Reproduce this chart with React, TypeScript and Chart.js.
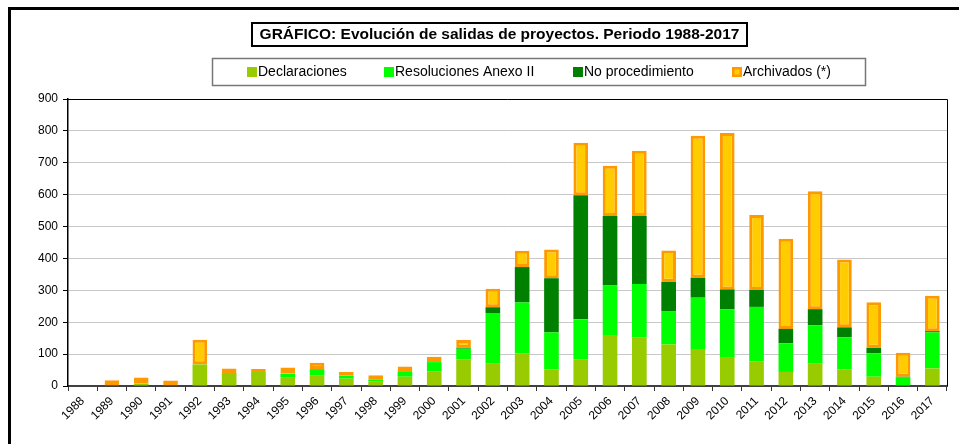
import React, { useEffect, useRef } from 'react';
import { Chart, registerables } from 'chart.js';
Chart.register(...registerables);

const years = ['1988','1989','1990','1991','1992','1993','1994','1995','1996','1997','1998','1999','2000','2001','2002','2003','2004','2005','2006','2007','2008','2009','2010','2011','2012','2013','2014','2015','2016','2017'];
const declaraciones = [0, 0, 8, 2, 68, 41, 44, 26, 34, 23, 14, 29, 46, 83, 70, 102, 52, 83, 160, 153, 130, 116, 91, 77, 44, 70, 52, 29, 0, 55];
const resoluciones = [0, 0, 0, 0, 0, 0, 0, 13, 19, 10, 7, 15, 29, 34, 159, 160, 116, 126, 155, 167, 105, 161, 150, 171, 90, 120, 101, 74, 28, 113];
const noProcedimiento = [0, 0, 0, 0, 0, 0, 0, 0, 0, 0, 0, 0, 0, 3, 18, 111, 170, 389, 218, 213, 92, 63, 62, 53, 45, 51, 31, 17, 1, 4];
const archivados = [0, 18, 19, 15, 77, 14, 9, 19, 20, 11, 13, 17, 17, 24, 58, 51, 90, 165, 158, 205, 98, 445, 490, 235, 283, 370, 213, 143, 75, 111];

const titleText = 'GRÁFICO: Evolución de salidas de proyectos. Periodo 1988-2017';
const legendLabels = ['Declaraciones', 'Resoluciones Anexo II', 'No procedimiento', 'Archivados (*)'];
const yMax = 900;
const yStep = 100;

const C_DECL = '#99CC00';
const C_RES = '#00FF00';
const C_NOP = '#008000';
const C_ARCH_FILL = '#FFCC00';
const C_ARCH_BORDER = '#FF9900';

const FONT = '"Liberation Sans", Arial, sans-serif';

const decorPlugin = {
  id: 'decor',
  beforeDraw(chart: any) {
    const ctx = chart.ctx;
    ctx.save();
    ctx.fillStyle = '#fff';
    ctx.fillRect(0, 0, chart.width, chart.height);
    ctx.restore();
  },
  afterDraw(chart: any) {
    const ctx = chart.ctx;
    const a = chart.chartArea;
    ctx.save();
    // plot area top/right border
    ctx.strokeStyle = '#000';
    ctx.lineWidth = 1;
    ctx.beginPath();
    ctx.moveTo(a.left, a.top + 0.5);
    ctx.lineTo(a.right + 0.5, a.top + 0.5);
    ctx.lineTo(a.right + 0.5, a.bottom);
    ctx.stroke();

    // outer frame
    ctx.lineWidth = 3;
    ctx.strokeStyle = '#000';
    ctx.strokeRect(9.5, 8.5, 1200, 1200);

    // title box
    ctx.lineWidth = 2;
    ctx.strokeRect(252, 23, 495, 23);
    ctx.fillStyle = '#000';
    ctx.font = 'bold 15.5px ' + FONT;
    ctx.textAlign = 'center';
    ctx.textBaseline = 'middle';
    ctx.fillText(titleText, 499.5, 35);

    // legend box
    ctx.lineWidth = 1.5;
    ctx.strokeStyle = '#777';
    ctx.strokeRect(212.5, 58.5, 653, 27);
    const xs = [247, 384, 573, 732];
    const cols = [C_DECL, C_RES, C_NOP, C_ARCH_BORDER];
    ctx.font = '14px ' + FONT;
    ctx.textAlign = 'left';
    ctx.textBaseline = 'middle';
    legendLabels.forEach((lab, i) => {
      ctx.fillStyle = cols[i];
      ctx.fillRect(xs[i], 67, 10, 10);
      if (i === 3) {
        ctx.fillStyle = C_ARCH_FILL;
        ctx.fillRect(xs[i] + 2.5, 69.5, 5, 5);
      }
      ctx.fillStyle = '#000';
      ctx.fillText(lab, xs[i] + 11, 72.5);
    });
    ctx.restore();
  },
};

export default function App() {
  const ref = useRef<HTMLCanvasElement | null>(null);
  useEffect(() => {
    if (!ref.current) return;
    const common = { barPercentage: 0.5, categoryPercentage: 1.0 };
    const chart = new Chart(ref.current, {
      type: 'bar',
      data: {
        labels: years,
        datasets: [
          { label: legendLabels[0], data: declaraciones, backgroundColor: C_DECL, borderWidth: 0, ...common },
          { label: legendLabels[1], data: resoluciones, backgroundColor: C_RES, borderWidth: 0, ...common },
          { label: legendLabels[2], data: noProcedimiento, backgroundColor: C_NOP, borderWidth: 0, ...common },
          { label: legendLabels[3], data: archivados, backgroundColor: C_ARCH_FILL, borderColor: C_ARCH_BORDER, borderWidth: 3, borderSkipped: false, ...common },
        ],
      },
      options: {
        responsive: false,
        animation: false,
        layout: { padding: { top: 99, right: 12, left: 0, bottom: 0 } },
        plugins: { legend: { display: false }, title: { display: false }, tooltip: { enabled: false } },
        scales: {
          x: {
            stacked: true,
            afterFit: (s: any) => { s.height = 58; },
            grid: { drawOnChartArea: false, offset: true, tickLength: 5, tickColor: '#333', tickWidth: 1 },
            border: { color: '#404040', width: 2 },
            ticks: { minRotation: 45, maxRotation: 45, autoSkip: false, color: '#000', font: { size: 12, family: FONT }, padding: 3 },
          },
          y: {
            stacked: true,
            min: 0,
            max: yMax,
            afterFit: (s: any) => { s.width = 68; },
            grid: { color: '#c8c8c8', lineWidth: 1, tickLength: 5, tickColor: '#000' },
            border: { color: '#000', width: 1.5 },
            ticks: { stepSize: yStep, color: '#000', font: { size: 12, family: FONT }, padding: 5 },
          },
        },
      },
      plugins: [decorPlugin],
    } as any);
    return () => chart.destroy();
  }, []);
  return (
    <div style={{ position: 'fixed', left: 0, top: 0, width: 959, height: 444 }}>
      <canvas ref={ref} width={959} height={444} style={{ display: 'block' }} />
    </div>
  );
}
